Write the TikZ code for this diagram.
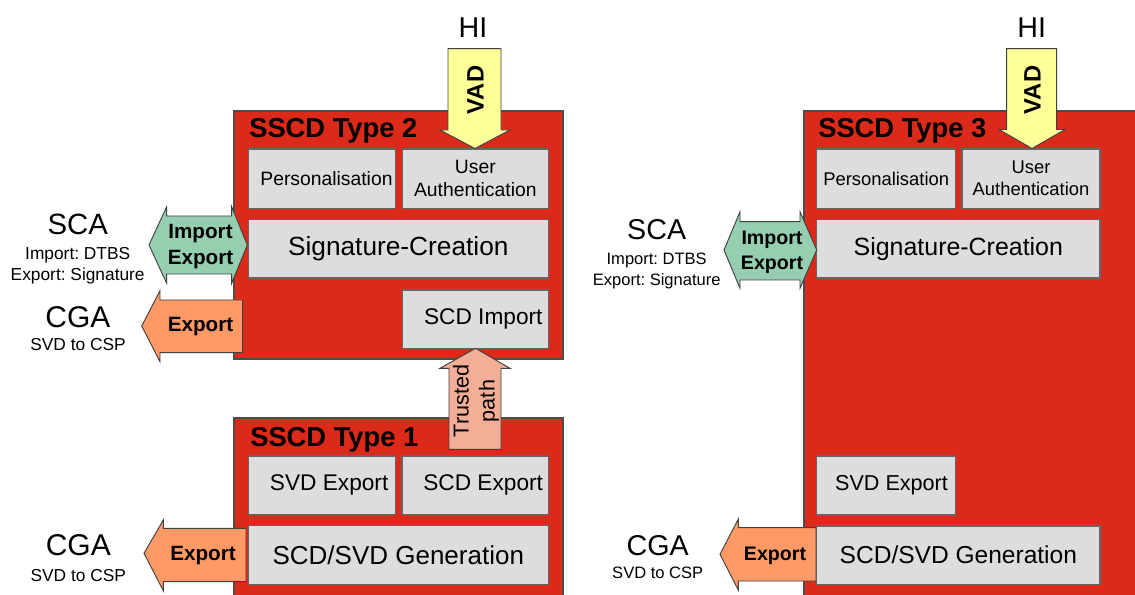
\documentclass[tikz,border=0pt]{standalone}
\usepackage{fontspec}
\setmainfont{Liberation Sans}
\frenchspacing
\definecolor{sscdred}{RGB}{220,42,26}
\definecolor{boxgray}{RGB}{221,221,221}
\definecolor{ieGreen}{RGB}{150,206,176}
\definecolor{exOrange}{RGB}{255,153,102}
\definecolor{tpSalmon}{RGB}{242,174,150}
\definecolor{vadYellow}{RGB}{255,255,153}
\newcommand{\fs}[2]{\fontsize{#1}{#2}\selectfont}
% \rbox{style}{name}{x1}{y1}{x2}{y2}{font}{text}
\newcommand{\rbox}[8]{\node[#1, font=#7, minimum width={(#5-#3)*0.75pt}, minimum height={(#6-#4)*0.75pt}] (#2) at ({(#3+#5)/2},{(#4+#6)/2}) {#8};}
\begin{document}
\begin{tikzpicture}[x=0.75pt,y=-0.75pt,
  redbox/.style={draw=black!70, fill=sscdred, line width=0.8pt, inner sep=0pt},
  gbox/.style={draw=black!60, fill=boxgray, line width=0.8pt, inner sep=0pt, align=center},
  shp/.style={draw=black!75, line width=0.7pt},
  title/.style={anchor=base west, inner sep=0pt, font=\bfseries\fs{20.5}{24}},
  lbl/.style={inner sep=0pt, align=center},
  big/.style={anchor=base, inner sep=0pt},
  small/.style={anchor=base, inner sep=0pt}
]
\useasboundingbox (0,0) rectangle (1135,595);
\clip (0,0) rectangle (1135,595);

% ---------- red SSCD boxes ----------
\rbox{redbox}{t2}{234}{111}{563}{359}{}{}
\rbox{redbox}{t1}{234}{418}{563}{610}{}{}
\rbox{redbox}{t3}{804}{111}{1150}{610}{}{}
\node[title] (t2title) at (249,138) {SSCD Type 2};
\node[title] (t1title) at (250,446) {SSCD Type 1};
\node[title] (t3title) at (818,138) {SSCD Type 3};

% ---------- Type 2 inner boxes ----------
\rbox{gbox}{pers2}{248.3}{149}{395.3}{208.3}{\fs{14.5}{17.5}}{\hspace*{7pt}Personalisation}
\rbox{gbox}{ua2}{402.3}{149}{548.3}{208.3}{\fs{14.5}{17.5}}{User\\Authentication}
\rbox{gbox}{sc2}{248.3}{219.3}{548.3}{278}{\fs{19.7}{22}}{Signature-Creation}
\rbox{gbox}{imp2}{402.3}{290}{548.3}{348.7}{\fs{17}{20}}{\hspace*{12pt}SCD Import}

% ---------- Type 1 inner boxes ----------
\rbox{gbox}{svd1}{248.3}{456}{395.3}{514.7}{\fs{17}{20}}{\hspace*{11pt}SVD Export}
\rbox{gbox}{scd1}{402}{456}{548.3}{514.7}{\fs{17}{20}}{\hspace*{12pt}SCD Export}
\rbox{gbox}{gen1}{248.3}{525.7}{548.3}{584.3}{\fs{19.5}{22}}{SCD/SVD Generation}

% ---------- Type 3 inner boxes ----------
\rbox{gbox}{pers3}{816.7}{149}{955.7}{208.3}{\fs{13.8}{16.6}}{Personalisation}
\rbox{gbox}{ua3}{962}{149}{1100}{208.3}{\fs{13.8}{16.6}}{User\\Authentication}
\rbox{gbox}{sc3}{816.7}{219.3}{1100}{278}{\fs{18.7}{21}}{Signature-Creation}
\rbox{gbox}{svd3}{816.7}{456}{955.7}{515}{\fs{16.2}{19}}{\hspace*{8pt}SVD Export}
\rbox{gbox}{gen3}{816.7}{526}{1100}{584.3}{\fs{18.4}{21}}{SCD/SVD Generation}

% ---------- HI / VAD arrows ----------
\node[big, font=\fs{21.5}{24}] (hi2) at (473,38) {HI};
\node[big, font=\fs{21.5}{24}] (hi3) at (1031.7,38) {HI};
\draw[shp, fill=vadYellow] (448,48.7) -- (501,48.7) -- (501,130) -- (510,130) -- (475,148.5) -- (440,130) -- (448,130) -- cycle;
\node[lbl, rotate=90, font=\bfseries\fs{17.8}{20}] (vad2) at (475.5,90) {VAD};
\draw[shp, fill=vadYellow] (1006.7,48.7) -- (1056.7,48.7) -- (1056.7,129.5) -- (1065,129.5) -- (1032,148.5) -- (999,129.5) -- (1006.7,129.5) -- cycle;
\node[lbl, rotate=90, font=\bfseries\fs{17.8}{20}] (vad3) at (1032.5,90) {VAD};

% ---------- Trusted path ----------
\draw[shp, fill=tpSalmon] (449,449.3) -- (449,368.3) -- (440,368.3) -- (475.5,348.3) -- (510,368.3) -- (501,368.3) -- (501,449.3) -- cycle;
\node[lbl, rotate=90, font=\fs{16.2}{19.5}] (tp) at (476,401) {Trusted\\path};

% ---------- Import / Export double arrows ----------
\draw[shp, fill=ieGreen] (149,245) -- (166.7,206.7) -- (166.7,216) -- (231.7,216) -- (231.7,206.7) -- (247.3,245)
  -- (231.7,283.3) -- (231.7,274) -- (166.7,274) -- (166.7,283.3) -- cycle;
\node[lbl, font=\bfseries\fs{15.5}{19.5}] (ie2) at (200.5,246.5) {Import\\Export};
\draw[shp, fill=ieGreen] (724,250) -- (740,211.7) -- (740,221.7) -- (800,221.7) -- (800,211.7) -- (816.7,250)
  -- (800,288.3) -- (800,280) -- (740,280) -- (740,288.3) -- cycle;
\node[lbl, font=\bfseries\fs{14.7}{18.7}] (ie3) at (772,252) {Import\\Export};

% ---------- Export arrows ----------
\draw[shp, fill=exOrange] (141.7,326) -- (160,290.7) -- (160,300) -- (242.7,300) -- (242.7,352.7) -- (160,352.7) -- (160,361.7) -- cycle;
\node[lbl, font=\bfseries\fs{15.5}{18}] (ex2) at (200.5,326.5) {Export};
\draw[shp, fill=exOrange] (144,553.3) -- (163.3,520) -- (163.3,528.3) -- (246,528.3) -- (246,581.7) -- (163.3,581.7) -- (163.3,590.7) -- cycle;
\node[lbl, font=\bfseries\fs{15.5}{18}] (ex1) at (203,556) {Export};
\draw[shp, fill=exOrange] (720,554.3) -- (738.3,519) -- (738.3,527.7) -- (816,527.7) -- (816,581) -- (738.3,581) -- (738.3,590) -- cycle;
\node[lbl, font=\bfseries\fs{14.7}{17}] (ex3) at (775,555.5) {Export};

% ---------- outside labels ----------
\node[big, font=\fs{22}{24}] (sca2) at (77.7,235) {SCA};
\node[small, font=\fs{13}{15}] (sca2a) at (77.7,260) {Import: DTBS};
\node[small, font=\fs{13}{15}] (sca2b) at (77.7,281) {Export: Signature};
\node[big, font=\fs{22.5}{24}] (cga2) at (78,327.3) {CGA};
\node[small, font=\fs{13}{15}] (cga2a) at (78,350) {SVD to CSP};
\node[big, font=\fs{22.5}{24}] (cga1) at (78.3,555) {CGA};
\node[small, font=\fs{13}{15}] (cga1a) at (78.3,581) {SVD to CSP};
\node[big, font=\fs{21.5}{24}] (sca3) at (656.7,239.3) {SCA};
\node[small, font=\fs{12.4}{15}] (sca3a) at (656.7,265) {Import: DTBS};
\node[small, font=\fs{12.4}{15}] (sca3b) at (656.7,286) {Export: Signature};
\node[big, font=\fs{21.5}{24}] (cga3) at (657.7,555) {CGA};
\node[small, font=\fs{12.4}{15}] (cga3a) at (657.7,578.3) {SVD to CSP};
\end{tikzpicture}
\end{document}
